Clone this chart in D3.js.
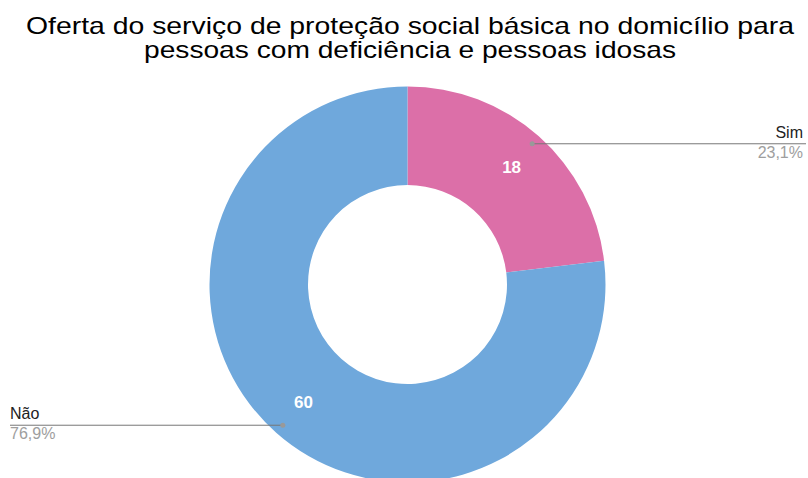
<!DOCTYPE html>
<html>
<head>
<meta charset="utf-8">
<script src="https://cdn.jsdelivr.net/npm/d3@7"></script>
<style>
  body { margin: 0; background: #fff; }
  svg { display: block; font-family: Arial, 'Liberation Sans', sans-serif; }
</style>
</head>
<body>
<svg></svg>
<script>
const categories = ['Sim', 'Não']
const values = [18, 60]
const colors = ['#dc6fa8', '#6fa8dc']
const titleLines = [
  'Oferta do serviço de proteção social básica no domicílio para',
  'pessoas com deficiência e pessoas idosas'
]
const titleWidths = [768, 532]

let width = 808
let height = 478
let cx = 407.5
let cy = 284.5
let outerR = 198
let innerR = 99.5

let svg = d3.select('svg')
  .attr('width', width)
  .attr('height', height)

/* Title */
svg.append('g')
  .selectAll('text')
  .data(titleLines)
  .enter()
  .append('text')
    .attr('x', 410)
    .attr('y', (d, i) => 34 + i * 24)
    .attr('text-anchor', 'middle')
    .attr('textLength', (d, i) => titleWidths[i])
    .attr('lengthAdjust', 'spacingAndGlyphs')
    .style('font-size', '24px')
    .attr('fill', '#000')
    .text(d => d)

let data = categories.map((c, i) => ({ name: c, value: values[i], color: colors[i] }))
let total = d3.sum(values)

let pie = d3.pie()
  .sort(null)
  .value(d => d.value)
  .startAngle(0)
  .endAngle(2 * Math.PI)

let arc = d3.arc().innerRadius(innerR).outerRadius(outerR)
let labelArc = d3.arc().innerRadius(157).outerRadius(157)
let dotArc = d3.arc().innerRadius(188).outerRadius(188)

let g = svg.append('g').attr('transform', `translate(${cx},${cy})`)

/* Slices */
g.selectAll('path')
  .data(pie(data))
  .enter()
  .append('path')
    .attr('d', arc)
    .attr('fill', d => d.data.color)

/* Values inside slices */
g.selectAll('text.val')
  .data(pie(data))
  .enter()
  .append('text')
    .attr('class', 'val')
    .attr('x', d => labelArc.centroid(d)[0])
    .attr('y', d => labelArc.centroid(d)[1])
    .attr('dy', '0.36em')
    .attr('text-anchor', 'middle')
    .style('font-size', '17px')
    .style('font-weight', 'bold')
    .attr('fill', '#fff')
    .text(d => d.data.value)

/* Leader lines and outside labels */
let fmt = v => (v / total * 100).toFixed(1).replace('.', ',') + '%'

pie(data).forEach(d => {
  let p = dotArc.centroid(d)
  let x = cx + p[0]
  let y = cy + p[1]
  let right = x > cx
  let x2 = right ? 806 : 10
  svg.append('line')
    .attr('x1', x).attr('y1', y)
    .attr('x2', x2).attr('y2', y)
    .attr('stroke', '#777')
    .attr('stroke-width', 1)
  svg.append('circle')
    .attr('cx', x).attr('cy', y)
    .attr('r', 2.5)
    .attr('fill', '#999')
  svg.append('text')
    .attr('x', right ? 803 : 10)
    .attr('y', y - 6)
    .attr('text-anchor', right ? 'end' : 'start')
    .style('font-size', '16px')
    .attr('fill', '#222')
    .text(d.data.name)
  svg.append('text')
    .attr('x', right ? 803 : 10)
    .attr('y', y + 14)
    .attr('text-anchor', right ? 'end' : 'start')
    .style('font-size', '16px')
    .attr('fill', '#9e9e9e')
    .text(fmt(d.data.value))
})
</script>
</body>
</html>
